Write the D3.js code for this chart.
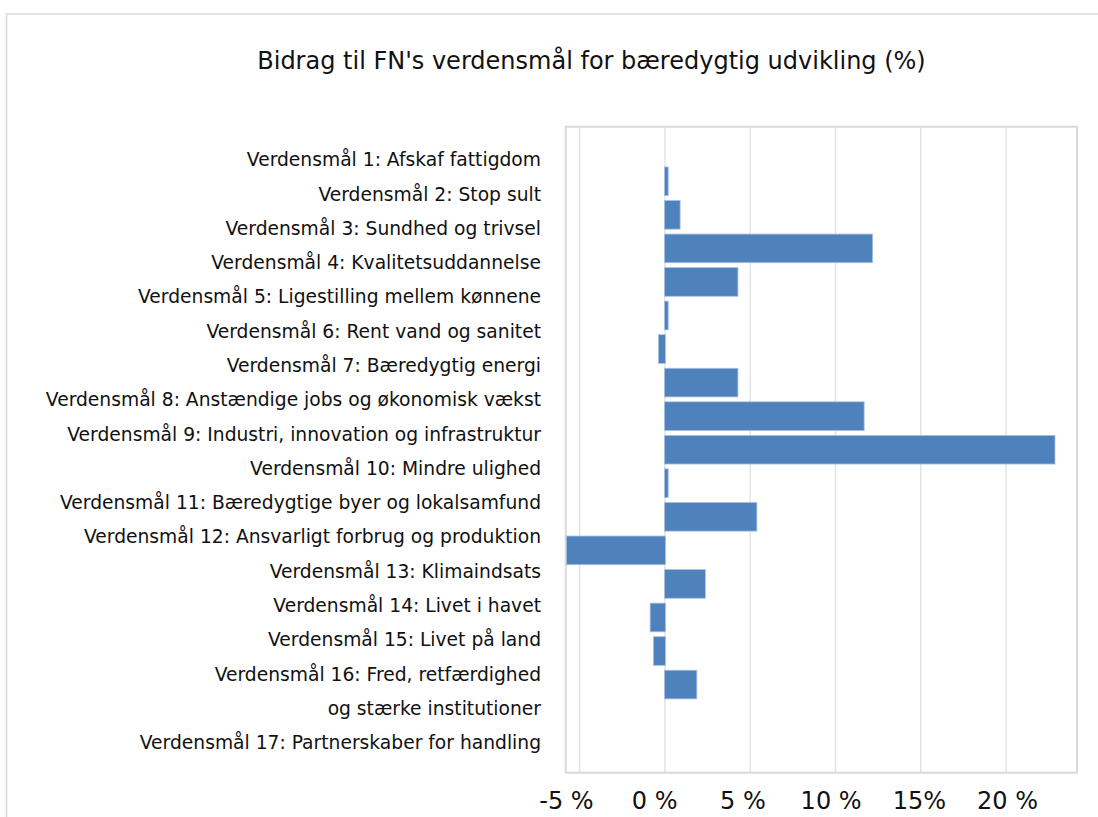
<!DOCTYPE html>
<html>
<head>
<meta charset="utf-8">
<script src="https://cdn.jsdelivr.net/npm/d3@7"></script>
<style>
  html, body { margin: 0; padding: 0; background: #fff; }
  svg { display: block; }
  text { font-family: "DejaVu Sans", sans-serif; fill: #111; }
</style>
</head>
<body>
<svg id="chart" width="1098" height="817"></svg>
<script>
// ---- data ----
const title = "Bidrag til FN's verdensmål for bæredygtig udvikling (%)";
const goals = [
  "Verdensmål 1: Afskaf fattigdom",
  "Verdensmål 2: Stop sult",
  "Verdensmål 3: Sundhed og trivsel",
  "Verdensmål 4: Kvalitetsuddannelse",
  "Verdensmål 5: Ligestilling mellem kønnene",
  "Verdensmål 6: Rent vand og sanitet",
  "Verdensmål 7: Bæredygtig energi",
  "Verdensmål 8: Anstændige jobs og økonomisk vækst",
  "Verdensmål 9: Industri, innovation og infrastruktur",
  "Verdensmål 10: Mindre ulighed",
  "Verdensmål 11: Bæredygtige byer og lokalsamfund",
  "Verdensmål 12: Ansvarligt forbrug og produktion",
  "Verdensmål 13: Klimaindsats",
  "Verdensmål 14: Livet i havet",
  "Verdensmål 15: Livet på land",
  "Verdensmål 16: Fred, retfærdighed\nog stærke institutioner",
  "Verdensmål 17: Partnerskaber for handling"
];
const values = [0.16, 0.86, 12.15, 4.25, 0.16, -0.35, 4.25, 11.65, 22.84, 0.16, 5.36, -5.75, 2.34, -0.84, -0.65, 1.84, 0];
const tickValues = [-5, 0, 5, 10, 15, 20];
const tickLabels = ["-5 %", "0 %", "5 %", "10 %", "15%", "20 %"];

// ---- layout ----
const svg = d3.select("#chart");
const plot = { left: 565.7, right: 1077, top: 126.7, bottom: 772.7 };

const x = d3.scaleLinear().domain([-5.82, 24.16]).range([plot.left, plot.right]);
const y = d3.scaleBand().domain(d3.range(goals.length))
  .range([plot.top, plot.bottom]).paddingInner(0.146).paddingOuter(1.2);

// outer chart border
svg.append("rect")
  .attr("x", 6.5).attr("y", 14).attr("width", 1200).attr("height", 1000)
  .attr("fill", "none").attr("stroke", "#d9d9d9").attr("stroke-width", 1.5);

// title
svg.append("text")
  .attr("x", 591.5).attr("y", 69.3)
  .attr("text-anchor", "middle")
  .attr("font-size", 24)
  .text(title);

// gridlines
svg.append("g").selectAll("line").data(tickValues).join("line")
  .attr("x1", d => x(d)).attr("x2", d => x(d))
  .attr("y1", plot.top).attr("y2", plot.bottom)
  .attr("stroke", "#e4e4e4").attr("stroke-width", 1.5);

// plot frame
svg.append("rect")
  .attr("x", plot.left).attr("y", plot.top)
  .attr("width", plot.right - plot.left).attr("height", plot.bottom - plot.top)
  .attr("fill", "none").attr("stroke", "#dadada").attr("stroke-width", 2);

// bars
svg.append("g").selectAll("rect").data(values).join("rect")
  .attr("x", d => x(Math.min(0, d)) - 0.5)
  .attr("width", d => d === 0 ? 0 : Math.abs(x(d) - x(0)) + 1)
  .attr("y", (d, i) => y(i))
  .attr("height", y.bandwidth())
  .attr("fill", "#4f81bd")
  .attr("stroke", "#a9c1e0").attr("stroke-width", 0.8)
  .attr("display", d => d === 0 ? "none" : null);

// category labels (text lines, goal 16 wraps onto two lines)
const lines = goals.flatMap(g => g.split("\n"));
const ly = d3.scalePoint().domain(d3.range(lines.length)).range([159.5, 742.5]);
svg.append("g").selectAll("text").data(lines).join("text")
  .attr("x", 541)
  .attr("y", (d, i) => ly(i))
  .attr("dy", "0.36em")
  .attr("text-anchor", "end")
  .attr("font-size", 18.7)
  .text(d => d);

// x tick labels
const labelScale = d3.scaleLinear().domain([-5, 20]).range([566, 1007]);
const xAxis = d3.axisBottom(labelScale)
  .tickValues(tickValues)
  .tickFormat((d, i) => tickLabels[i])
  .tickSize(0).tickPadding(0);
const gx = svg.append("g").attr("transform", "translate(0,791)").call(xAxis);
gx.select(".domain").remove();
gx.selectAll("text")
  .attr("font-size", 24)
  .attr("font-family", "DejaVu Sans, sans-serif")
  .attr("fill", "#111")
  .attr("dy", "0.75em");
</script>
</body>
</html>
